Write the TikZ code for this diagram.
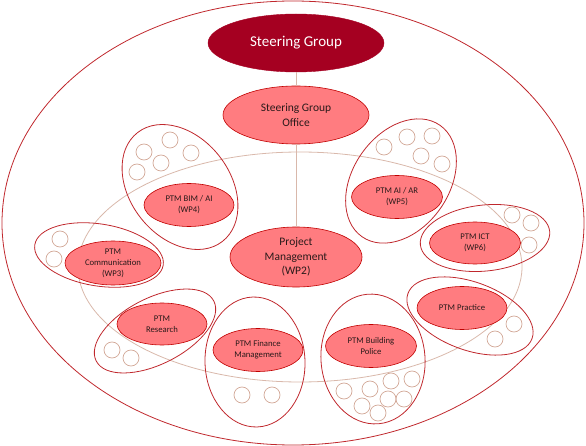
\documentclass[tikz,border=0pt]{standalone}
\usepackage{fontspec}
\setmainfont{Carlito}
\usetikzlibrary{shapes.geometric}
\definecolor{sgred}{HTML}{A50021}
\definecolor{pinkfill}{HTML}{FF7C80}
\definecolor{pinkline}{HTML}{C00000}
\definecolor{grpline}{HTML}{C0282D}
\definecolor{lbrown}{HTML}{D2A897}
\definecolor{conn}{HTML}{D9B8AB}
\definecolor{txt}{HTML}{2A1A1A}
\tikzset{
  pinknode/.style={ellipse, draw=pinkline, line width=0.6pt, fill=pinkfill, inner sep=0pt,
    align=center, text=txt, font=\fontsize{8.7}{11}\selectfont},
  grp/.style={draw=grpline, line width=0.8pt},
  smallc/.style={draw=lbrown, line width=0.7pt},
  connline/.style={draw=conn, line width=0.8pt}
}
\begin{document}
\begin{tikzpicture}[x=1pt,y=-1pt]
\useasboundingbox (0,0) rectangle (586,446);
% outer ellipse
\draw[grp] (293,223) ellipse [x radius=291pt, y radius=222pt];
% inner large ellipse
\draw[connline] (300,267) ellipse [x radius=222pt, y radius=115pt];

% top nodes
\node[ellipse, fill=sgred, draw=sgred, inner sep=0pt, minimum width=176pt, minimum height=58pt,
  text=white, font=\fontsize{15}{18}\selectfont] (sg) at (296,43) {Steering Group};
\node[pinknode, minimum width=146pt, minimum height=58pt, font=\fontsize{11.5}{14.5}\selectfont]
  (sgo) at (296,115) {Steering Group\\Office};
\node[pinknode, minimum width=132pt, minimum height=60pt, font=\fontsize{11.5}{14.5}\selectfont]
  (pm) at (296,257) {Project\\Management\\(WP2)};
\draw[connline] (sg) -- (sgo);
\draw[connline] (sgo) -- (pm);

% group outlines
\draw[grp, rotate around={38:(180,187)}] (180,187) ellipse [x radius=50pt, y radius=69pt];
\draw[grp, rotate around={-35:(401,181)}] (401,181) ellipse [x radius=48pt, y radius=68pt];
\draw[grp, rotate around={6:(485,238)}] (485,238) ellipse [x radius=65pt, y radius=33pt];
\draw[grp, rotate around={-9:(99,255)}] (99,255) ellipse [x radius=65pt, y radius=31pt];
\draw[grp, rotate around={27:(155,331)}] (155,331) ellipse [x radius=66pt, y radius=33pt];
\draw[grp, rotate around={2:(255,362)}] (255,362) ellipse [x radius=50pt, y radius=65pt];
\draw[grp, rotate around={5:(373,359)}] (373,359) ellipse [x radius=52pt, y radius=65pt];
\draw[grp, rotate around={-20:(470,316)}] (470,316) ellipse [x radius=66pt, y radius=34pt];

% small circles
\foreach \p in {(144,152),(170,140),(191,153),(161,163),(137,172),
                (384,147),(407,137),(432,136),(421,156),(442,164),
                (512,215),(531,223),(529,245),
                (60,239),(54,259),
                (112,350),(131,358),
                (242,395),(272,395),
                (344,391),(370,389),(391,381),(412,379),(362,406),(388,399),(404,399),(378,413),
                (495,339),(514,324)}
  \draw[smallc] \p circle [radius=8pt];

% PTM nodes
\node[pinknode, minimum width=90pt, minimum height=43pt] (wp4) at (189,205) {PTM BIM / AI\\(WP4)};
\node[pinknode, minimum width=91pt, minimum height=43pt] (wp5) at (397,197) {PTM AI / AR\\(WP5)};
\node[pinknode, minimum width=91pt, minimum height=42pt] (wp6) at (475,243) {PTM ICT\\(WP6)};
\node[pinknode, minimum width=96pt, minimum height=44pt] (wp3) at (113,263) {PTM\\Communication\\(WP3)};
\node[pinknode, minimum width=90pt, minimum height=42pt] (res) at (162,324) {PTM\\Research};
\node[pinknode, minimum width=90pt, minimum height=43pt] (fin) at (258,350) {PTM Finance\\Management};
\node[pinknode, minimum width=91pt, minimum height=43pt] (bp) at (371,346) {PTM Building\\Police};
\node[pinknode, minimum width=90pt, minimum height=43pt] (pr) at (462,308) {PTM Practice};
\end{tikzpicture}
\end{document}
